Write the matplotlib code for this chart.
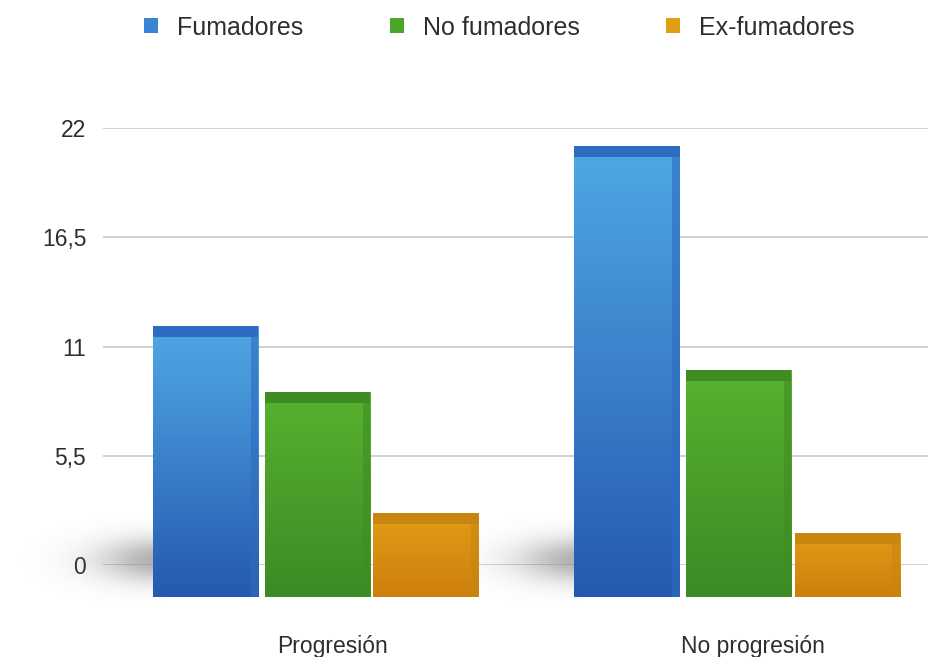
import numpy as np
import matplotlib
matplotlib.use("Agg")
import matplotlib.pyplot as plt
from matplotlib.patches import Patch, Rectangle
from matplotlib.colors import LinearSegmentedColormap

# ---- data ----
categories = ["Progresión", "No progresión"]
series = ["Fumadores", "No fumadores", "Ex-fumadores"]
fumadores = [12.3, 20.5]
no_fumadores = [9.3, 10.3]
ex_fumadores = [3.8, 2.9]
y_ticks = [0, 5.5, 11, 16.5, 22]
y_tick_labels = ["0", "5,5", "11", "16,5", "22"]

values = [fumadores, no_fumadores, ex_fumadores]

# colour ramps (bottom, top) and bevel colours per series
ramps = [("#2559b0", "#50a8e4"), ("#3c8a25", "#58b22f"), ("#cc7f0c", "#e39c18")]
bevels = ["#2d6cc0", "#3f8d22", "#c88610"]
legend_cols = ["#3a84d4", "#4ea52c", "#dea012"]

plt.rcParams["font.family"] = ["Liberation Sans", "DejaVu Sans"]
TEXT = "#2e2e2e"

W, H = 933, 657
fig = plt.figure(figsize=(W / 100, H / 100), dpi=100)


def frac_box(x0, x1, ytop, ybot):
    return [x0 / W, 1 - ybot / H, (x1 - x0) / W, (ybot - ytop) / H]


# back wall: grid lines and value axis
ax = fig.add_axes(frac_box(103, 928, 128, 565))
ax.set_ylim(0, 22)
ax.set_xlim(0, 1)
ax.set_yticks(y_ticks)
ax.set_yticklabels(y_tick_labels, fontsize=16.5, color=TEXT)
ax.tick_params(axis="y", length=0, pad=12)
ax.set_xticks([])
for s in ax.spines.values():
    s.set_visible(False)
ax.grid(axis="y", color="#d0d0d0", linewidth=1.4)
ax.set_axisbelow(True)

# front plane: bars
axf = fig.add_axes(frac_box(103, 928, 113, 597))
group_x = np.array([0.0, 1.0])
for s in axf.spines.values():
    s.set_visible(False)
axf.patch.set_alpha(0)
axf.set_yticks([])
axf.set_xticks(group_x + 0.035)
axf.set_xticklabels(categories, fontsize=16.5, color=TEXT)
axf.tick_params(axis="x", length=0, pad=27)

width = 0.25
offsets = [-0.265, 0.0, 0.258]

# soft floor shadow to the left of each group
yy, xx = np.mgrid[0:1:120j, 0:1:240j]
shadow = np.exp(-(((xx - 1.0) / 0.42) ** 2) - (((yy - 0.5) / 0.2) ** 2))
shadow_cmap = LinearSegmentedColormap.from_list(
    "sh", [(0.5, 0.5, 0.5, 0.0), (0.5, 0.5, 0.5, 0.62)])
for g in group_x:
    x_left = g + offsets[0] - width / 2
    im = axf.imshow(shadow, extent=[x_left - 0.34, x_left + 0.02, -0.8, 4.2],
                    aspect="auto", cmap=shadow_cmap, vmin=0, vmax=1, zorder=1,
                    interpolation="bilinear")
    im.set_clip_on(False)

grad = np.linspace(1, 0, 256).reshape(-1, 1)
for si, vals in enumerate(values):
    cmap = LinearSegmentedColormap.from_list("r%d" % si, list(ramps[si]))
    bars = axf.bar(group_x + offsets[si], vals, width=width,
                   color=ramps[si][0], zorder=2)
    for b, v in zip(bars, vals):
        x0 = b.get_x()
        im = axf.imshow(grad, extent=[x0, x0 + width, 0, v], aspect="auto",
                        cmap=cmap, vmin=0, vmax=1, zorder=3)
        im.set_clip_path(b)
        # top bevel
        axf.add_patch(Rectangle((x0, v - 0.5), width, 0.5, facecolor=bevels[si],
                                edgecolor="none", zorder=4))
        # darker right side edge
        axf.add_patch(Rectangle((x0 + width * 0.93, 0), width * 0.07, v,
                                facecolor=bevels[si], alpha=0.6,
                                edgecolor="none", zorder=4))

axf.set_xlim(-0.509, 1.45)
axf.set_ylim(0, 22)

# legend at the top
handles = [Patch(facecolor=c, edgecolor="none") for c in legend_cols]
fig.legend(handles, series, loc="center", bbox_to_anchor=(0.535, 0.958),
           ncol=3, frameon=False, fontsize=18, handlelength=0.56,
           handleheight=0.56, handletextpad=0.76, columnspacing=3.45,
           labelcolor=TEXT)

fig.savefig("out.png", dpi=100, facecolor="white")
